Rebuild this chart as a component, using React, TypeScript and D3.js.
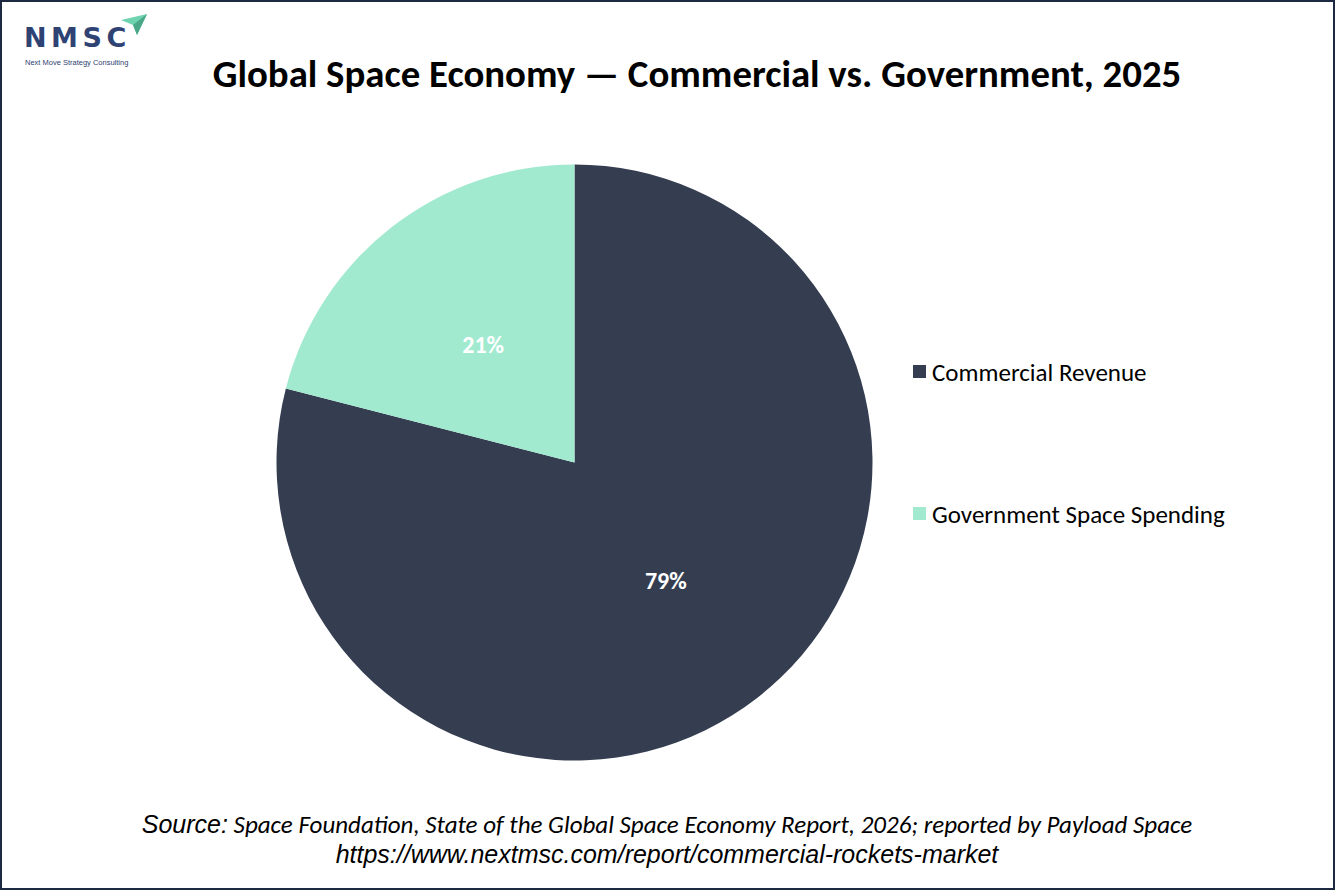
import React from "react";
import * as d3 from "d3";

const categories = ["Commercial Revenue", "Government Space Spending"];
const shares = [79, 21];
const colors = ["#343e50", "#a1ead0"];
const titleText = "Global Space Economy \u2014 Commercial vs. Government, 2025";
const sourceLead = "Source:";
const sourceRest = " Space Foundation, State of the Global Space Economy Report, 2026; reported by Payload Space";
const urlText = "https://www.nextmsc.com/report/commercial-rockets-market";

const W = 1335;
const H = 890;

export default function App() {
  const cx = 574.5;
  const cy = 462.5;
  const R = 298;
  const data = categories.map((c, i) => ({ name: c, value: shares[i], color: colors[i] }));
  const pie = d3.pie<any>().value((d: any) => d.value).sort(null);
  const arcs = pie(data);
  const arc = d3.arc<any>().innerRadius(0).outerRadius(R);
  const labelArc = d3.arc<any>().innerRadius(R * 0.5).outerRadius(R * 0.5);
  const calibri = "Carlito, Calibri, Lato, 'Open Sans', sans-serif";
  const arial = "'Liberation Sans', Arial, sans-serif";
  const legendY = d3.scalePoint<string>().domain(categories).range([372, 514]);

  return (
    <svg
      width={W}
      height={H}
      viewBox={`0 0 ${W} ${H}`}
      style={{ position: "absolute", left: 0, top: 0, background: "#fff" }}
    >
      <rect x={0} y={0} width={W} height={H} fill="#fff" />
      <rect x={1} y={1} width={W - 2} height={H - 2} fill="none" stroke="#1c2940" strokeWidth={2} />

      {/* Logo */}
      <g>
        <text x={24} y={47} fontFamily="'DejaVu Sans', Roboto, sans-serif" fontWeight={700} fontSize={27} fill="#2e4373" letterSpacing={4.5}>
          NMSC
        </text>
        <polygon points="121,20 147,14 137,35 133,25" fill="#6fd3b0" />
        <polygon points="133,25 147,14 137,35" fill="#4aa888" />
        <text x={25} y={65} fontFamily={arial} fontSize={7.5} fill="#2e4373">
          Next Move Strategy Consulting
        </text>
      </g>

      <text x={697} y={87} textAnchor="middle" fontFamily={calibri} fontWeight={700} fontSize={38.8} fill="#000">
        {titleText}
      </text>

      <g transform={`translate(${cx},${cy})`}>
        {arcs.map((a, i) => (
          <path key={i} d={arc(a) as string} fill={a.data.color} />
        ))}
        {arcs.map((a, i) => {
          const [lx, ly] = labelArc.centroid(a);
          return (
            <text key={"l" + i} x={lx} y={ly} dy="0.35em" textAnchor="middle" fontFamily={calibri} fontWeight={700} fontSize={24} fill="#fff">
              {a.data.value}%
            </text>
          );
        })}
      </g>

      <g>
        {data.map((d) => (
          <g key={d.name} transform={`translate(913,${legendY(d.name)})`}>
            <rect x={0} y={-7} width={13} height={13} fill={d.color} />
            <text x={19} y={0} dy="0.35em" fontFamily={calibri} fontSize={25} fill="#000">
              {d.name}
            </text>
          </g>
        ))}
      </g>

      <text x={667} y={833} textAnchor="middle" fontSize={25} fill="#000" fontStyle="italic">
        <tspan fontFamily={arial}>{sourceLead}</tspan>
        <tspan fontFamily={calibri}>{sourceRest}</tspan>
      </text>
      <text x={667} y={863} textAnchor="middle" fontFamily={arial} fontStyle="italic" fontSize={25} fill="#000">
        {urlText}
      </text>
    </svg>
  );
}
